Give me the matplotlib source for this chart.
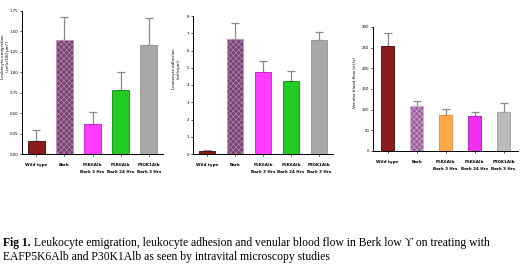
import numpy as np
import matplotlib
matplotlib.use("Agg")
import matplotlib.pyplot as plt

groups = ["Wild type", "Bark", "P5K6Alb\nBark 3 Hrs", "P5K6Alb\nBark 24 Hrs", "P30K1Alb\nBark 3 Hrs"]

emig_mean = [0.16, 1.40, 0.37, 0.78, 1.33]
emig_err = [0.13, 0.28, 0.15, 0.22, 0.33]
emig_ticks = [0.00, 0.25, 0.50, 0.75, 1.00, 1.25, 1.50, 1.75]

adh_mean = [0.15, 6.65, 4.75, 4.25, 6.60]
adh_err = [0.10, 0.95, 0.65, 0.55, 0.50]
adh_ticks = [0, 1, 2, 3, 4, 5, 6, 7, 8]

flow_mean = [255, 110, 88, 85, 95]
flow_err = [30, 10, 14, 10, 20]
flow_ticks = [0, 50, 100, 150, 200, 250, 300]

colors_a = ["#8b1a1a", "#7a4470", "#ff3cff", "#22cc22", "#a8a8a8"]
edges_a = ["#3a0a0a", "#c090bc", "#c020c0", "#118811", "#909090"]
colors_c = ["#8b1a1a", "#9a6098", "#ffaa48", "#ee30ee", "#bcbcbc"]
edges_c = ["#3a0a0a", "#d8b0d8", "#e08a30", "#b010b0", "#a0a0a0"]
hatch_a = [None, "xxxxxx", None, None, None]

W, H = 520, 268
fig = plt.figure(figsize=(5.2, 2.68), dpi=100)
plt.rcParams["hatch.linewidth"] = 0.4


def panel(box, means, errs, ticks, fmt, ylabel, colors, edges, hatch, width, lab_xy):
    l, r, t, b = box
    ax = fig.add_axes([l / W, 1 - b / H, (r - l) / W, (b - t) / H])
    x = np.arange(len(means))
    for i in range(len(means)):
        ax.bar(x[i], means[i], width=width, color=colors[i], edgecolor=edges[i],
               linewidth=0.6, hatch=hatch[i], zorder=2)
        ax.errorbar(x[i], means[i], yerr=[[0], [errs[i]]], fmt="none",
                    ecolor="#8a8a8a", elinewidth=0.9, capsize=2.8, capthick=0.9, zorder=1)
    ax.set_xlim(-0.5, len(means) - 0.5)
    ax.set_ylim(ticks[0], ticks[-1])
    ax.set_yticks(ticks)
    ax.set_yticklabels([fmt.format(v) for v in ticks], fontsize=2.8)
    ax.set_xticks(x)
    ax.set_xticklabels(groups, fontsize=3.0, fontweight="bold", linespacing=2.0)
    ax.tick_params(axis="y", length=1.5, width=0.5, pad=1.2)
    ax.tick_params(axis="x", length=1.5, width=0.5, pad=5)
    for s in ["top", "right"]:
        ax.spines[s].set_visible(False)
    for s in ["left", "bottom"]:
        ax.spines[s].set_linewidth(0.7)
    ax.set_ylabel(ylabel, fontsize=3.0, linespacing=1.3)
    ax.yaxis.set_label_coords(lab_xy[0], lab_xy[1])
    return ax


panel((22, 163, 11, 154), emig_mean, emig_err, emig_ticks, "{:.2f}",
      "Leukocyte emigration\n(cells/100 \u00b5m\u00b2)", colors_a, edges_a, hatch_a,
      0.6, (-0.085, 0.68))
panel((193, 333, 16, 154), adh_mean, adh_err, adh_ticks, "{:d}",
      "Leukocyte adhesion\n(cells/\u00b5m)", colors_a, edges_a, hatch_a,
      0.6, (-0.085, 0.62))
panel((373, 518, 27, 151), flow_mean, flow_err, flow_ticks, "{:d}",
      "Venular blood flow (nL/s)", colors_c, edges_c, hatch_a,
      0.48, (-0.11, 0.55))

fig.text(3 / W, 1 - 243 / H, "Fig 1.", fontsize=8.4, fontweight="bold",
         family="Liberation Serif", va="center")
fig.text(34 / W, 1 - 243 / H,
         "Leukocyte emigration, leukocyte adhesion and venular blood flow in Berk low \u03d2 on treating with",
         fontsize=8.4, family="Liberation Serif", va="center")
fig.text(3 / W, 1 - 257 / H,
         "EAFP5K6Alb and P30K1Alb as seen by intravital microscopy studies",
         fontsize=8.4, family="Liberation Serif", va="center")

fig.savefig("out.png", dpi=100)
